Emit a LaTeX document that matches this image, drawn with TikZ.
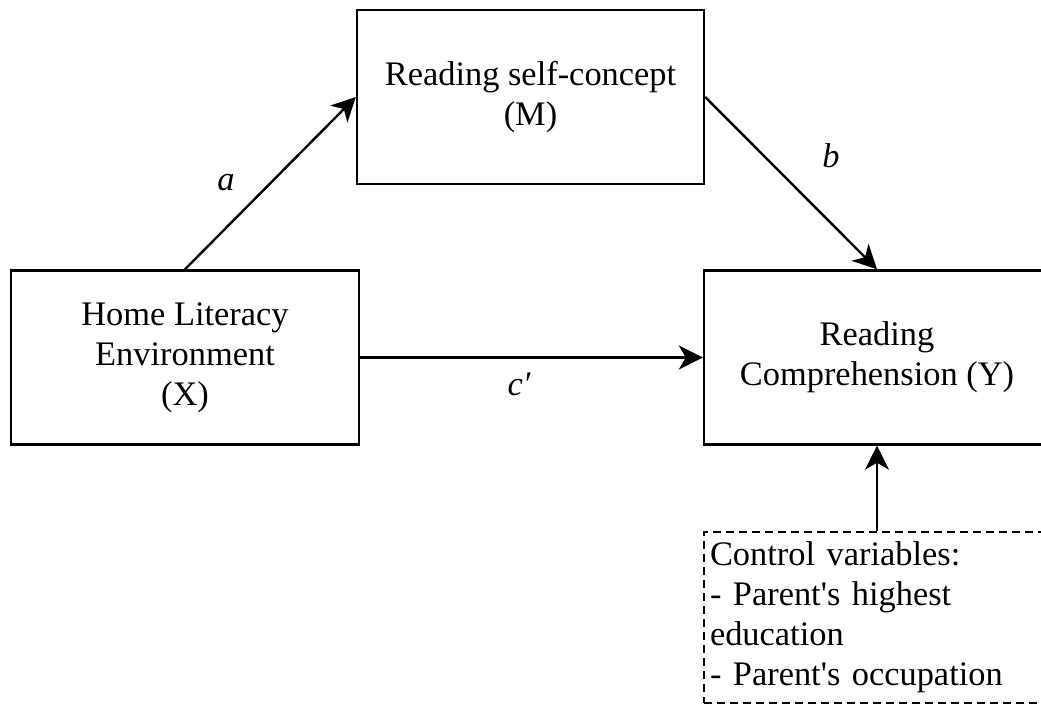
\documentclass[tikz,border=0pt]{standalone}
\usepackage{fontspec}
\setmainfont{Liberation Serif}
\usetikzlibrary{arrows.meta}
\begin{document}
\begin{tikzpicture}[x=1pt,y=-1pt,
  txt/.style={font=\fontsize{34.4}{40}\selectfont},
  box/.style={txt,draw,line width=2.4pt,inner sep=0pt,align=center},
  ctrl/.style={txt,draw,line width=2pt,dash pattern=on 8pt off 5pt,inner xsep=6pt,inner ysep=0pt,align=left,text width=340pt,minimum height=171pt},
  arr/.style={line width=2.4pt,-{Stealth[length=24pt,width=24pt,inset=7pt]}},
  lab/.style={txt,font=\fontsize{34.4}{40}\selectfont\itshape}]
\useasboundingbox (0,0) rectangle (1041,704);
\fill[white] (0,0) rectangle (1041,704);
\node[box,minimum width=348pt,minimum height=174pt] (X) at (185,357.5) {Home Literacy\\Environment\\(X)};
\node[box,minimum width=347pt,minimum height=174pt] (M) at (530.5,97) {Reading self-concept\\(M)};
\node[box,minimum width=346pt,minimum height=174pt] (Y) at (877,357.5) {Reading\\Comprehension (Y)};
\node[ctrl,anchor=north west] (C) at (703,531) {Control variables:\\- Parent\textquotesingle s highest\\education\\- Parent\textquotesingle s occupation};
\draw[arr] (X.north) -- (M.west);
\draw[arr] (M.east) -- (Y.north);
\draw[arr] (X.east) -- (Y.west);
\draw[arr] (C.north -| Y.south) -- (Y.south);
\node[lab] (la) at (226,183) {a};
\node[lab] (lb) at (831,156) {b};
\node[lab] (lc) at (519,384) {c′};
\end{tikzpicture}
\end{document}
